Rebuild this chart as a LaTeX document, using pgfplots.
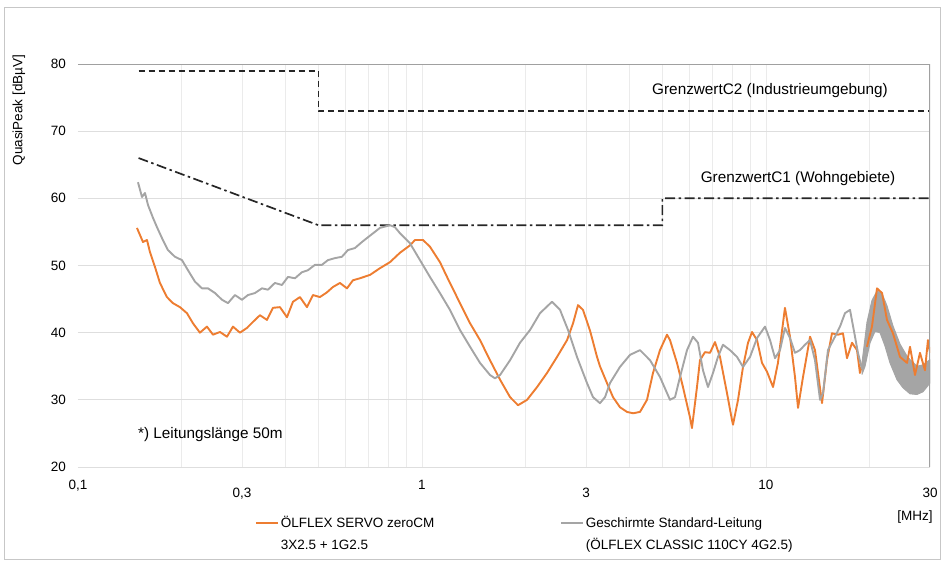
\documentclass[border=0pt]{standalone}
\usepackage{pgfplots}
\pgfplotsset{compat=1.18}
\usepackage{fontspec}
\setmainfont{Liberation Sans}
\definecolor{orng}{HTML}{ED7D31}
\definecolor{gry}{HTML}{A5A5A5}
\definecolor{lim}{HTML}{262626}
\definecolor{hgrid}{HTML}{DEDEDE}
\definecolor{vgrid}{HTML}{EBEBEB}
\definecolor{frm}{HTML}{A0A0A0}
\begin{document}
\begin{tikzpicture}[x=1pt,y=1pt]
\useasboundingbox (0,0) rectangle (941,560);
\draw[color=black!22, line width=0.8pt] (4.5,0.5) rectangle (940.5,553);
\begin{axis}[
  at={(78pt,93pt)}, anchor=south west,
  scale only axis, width=852pt, height=403pt,
  xmode=log, xmin=0.1, xmax=30, ymin=20, ymax=80,
  xtick={0.1,0.3,1,3,10,30},
  xticklabels={{0,1},{\raisebox{-8pt}{0,3}},1,{\raisebox{-8pt}{3}},10,{\raisebox{-8pt}{30}}},
  minor xtick={0.2,0.3,0.4,0.5,0.6,0.7,0.8,0.9,1,2,3,4,5,6,7,8,9,10,20},
  xminorgrids, minor grid style={vgrid, line width=0.7pt},
  ytick={20,30,40,50,60,70,80}, yticklabels={20,30,40,50,60,70,80},
  ymajorgrids, major grid style={hgrid, line width=0.9pt},
  major tick length=0pt, minor tick length=0pt,
  axis line style={draw=none},
  tick label style={font=\fontsize{13.5}{16}\selectfont},
  xticklabel style={anchor=base, yshift=-22.5pt, inner sep=0pt},
  yticklabel style={anchor=east, inner sep=0pt, xshift=-12pt},
  legend columns=2,
  legend style={at={(0.2077,-0.1074)}, anchor=north west, draw=none, fill=none, inner sep=0pt,
    font=\fontsize{13.5}{21.5}\selectfont,
    /tikz/every even column/.append style={column sep=124pt},
    cells={anchor=base west, inner xsep=0pt, inner ysep=1pt}},
  legend image code/.code={\draw[#1, line width=1.6pt] (0pt,4.8pt) -- (22pt,4.8pt);},
]
% limit lines
\addplot[lim, line width=1.7pt, dash pattern=on 6pt off 4pt, forget plot] coordinates {
 (0.15,79) (0.5,79) (0.5,73) (30,73)};
\addplot[lim, line width=1.7pt, dash pattern=on 10pt off 3.5pt on 2.5pt off 3.5pt, forget plot] coordinates {
 (0.15,66) (0.5,56) (5,56) (5,60) (30,60)};

% OELFLEX SERVO zeroCM
\addplot[orng, line width=1.9pt, line join=round] coordinates {
(0.1484,55.6) (0.1545,53.5) (0.1587,53.8) (0.1619,52.0) (0.1674,49.8) (0.1731,47.4)
(0.1814,45.3) (0.1888,44.4) (0.1979,43.8) (0.2074,42.9) (0.2159,41.4) (0.2262,40.0)
(0.2371,40.9) (0.2468,39.7) (0.2587,40.1) (0.2711,39.4) (0.2822,40.9) (0.2957,40.0)
(0.3099,40.7) (0.3226,41.6) (0.3381,42.6) (0.3543,41.9) (0.3688,43.7) (0.3866,43.8)
(0.4051,42.3) (0.4217,44.6) (0.4419,45.3) (0.4631,43.8) (0.4820,45.6) (0.5051,45.3)
(0.5293,46.0) (0.5511,46.8) (0.5776,47.4) (0.6053,46.6) (0.6301,47.8) (0.6604,48.1)
(0.7064,48.6) (0.7551,49.6) (0.8074,50.5) (0.8633,51.9) (0.9232,53.0) (0.9546,53.8)
(1.007,53.8) (1.055,52.8) (1.128,50.5) (1.206,47.4) (1.290,44.4) (1.380,41.4)
(1.475,38.9) (1.577,35.9) (1.687,33.0) (1.804,30.4) (1.903,29.2) (2.021,30.0)
(2.161,31.9) (2.310,34.0) (2.471,36.4) (2.642,38.9) (2.750,41.4) (2.843,44.1)
(2.939,43.4) (3.081,40.3) (3.228,36.4) (3.293,35.0) (3.451,32.5) (3.593,30.4)
(3.765,28.9) (3.947,28.2) (4.109,28.0) (4.305,28.2) (4.511,30.0) (4.696,34.0)
(4.921,37.4) (5.158,39.7) (5.262,38.9) (5.514,35.5) (5.740,31.9) (6.015,27.4)
(6.096,25.8) (6.304,31.9) (6.432,35.9) (6.651,37.1) (6.878,37.0) (7.112,38.6)
(7.354,36.4) (7.708,31.0) (7.970,27.0) (8.024,26.3) (8.297,30.0) (8.579,34.9)
(8.872,38.5) (9.113,40.1) (9.423,38.9) (9.743,35.5) (10.07,34.2) (10.49,31.9)
(10.84,35.5) (11.36,43.7) (11.75,39.4) (12.15,33.4) (12.40,28.8) (12.82,33.4)
(13.44,39.4) (13.89,37.4) (14.56,29.5) (15.05,35.9) (15.56,39.9) (16.20,39.7)
(16.75,39.9) (17.21,36.2) (17.80,38.5) (18.40,37.4) (18.77,34.0) (19.67,37.9)
};
\addlegendentry{\begin{tabular}[t]{@{}l@{}}ÖLFLEX SERVO zeroCM\\3X2.5 + 1G2.5\end{tabular}}

% Geschirmte Standard-Leitung
\addplot[gry, line width=1.9pt, line join=round] coordinates {
(0.1494,62.4) (0.1535,60.2) (0.1566,60.8) (0.1598,59.0) (0.1652,57.1) (0.1697,55.7)
(0.1754,54.1) (0.1826,52.3) (0.1914,51.3) (0.2006,50.8) (0.2088,49.3) (0.2188,47.6)
(0.2293,46.6) (0.2387,46.6) (0.2502,45.9) (0.2622,44.9) (0.2729,44.4) (0.2860,45.6)
(0.2997,44.9) (0.3120,45.6) (0.3270,45.9) (0.3427,46.6) (0.3567,46.4) (0.3737,47.4)
(0.3917,47.1) (0.4078,48.3) (0.4274,48.1) (0.4478,49.0) (0.4662,49.3) (0.4886,50.1)
(0.5120,50.1) (0.5329,50.8) (0.5585,51.1) (0.5853,51.3) (0.6093,52.3) (0.6386,52.6)
(0.6693,53.5) (0.6966,54.2) (0.7551,55.6) (0.8074,56.0) (0.8348,55.7) (0.8633,54.8)
(0.9232,53.3) (0.987,50.8) (1.055,48.3) (1.128,45.9) (1.206,43.4) (1.290,40.4)
(1.380,37.9) (1.475,35.5) (1.577,33.7) (1.631,33.2) (1.687,33.7) (1.804,35.9)
(1.928,38.5) (2.062,40.4) (2.204,42.9) (2.388,44.6) (2.520,43.4) (2.659,40.4)
(2.823,36.4) (3.019,32.5) (3.143,30.4) (3.293,29.5) (3.406,30.4) (3.522,32.5)
(3.765,34.9) (4.027,36.7) (4.305,37.4) (4.604,35.9) (4.921,33.4) (5.262,30.0)
(5.443,30.4) (5.627,33.4) (5.897,37.4) (6.138,39.4) (6.347,38.5) (6.563,34.4)
(6.787,31.9) (7.018,34.0) (7.256,36.4) (7.503,38.2) (7.864,37.4) (8.241,36.4)
(8.579,34.9) (8.993,36.4) (9.423,39.2) (9.94,40.9) (10.28,38.9) (10.63,36.2)
(10.99,37.4) (11.36,40.7) (11.75,39.2) (12.15,37.0) (12.56,37.4) (12.99,38.2)
(13.44,38.9) (13.89,35.9) (14.37,30.0) (14.66,31.0) (15.15,37.4) (15.88,39.4)
(16.42,40.9) (16.98,42.9) (17.56,43.4) (18.16,39.4) (18.52,37.0) (19.03,34.6)
};
\addlegendentry{\begin{tabular}[t]{@{}l@{}}Geschirmte Standard-Leitung\\(ÖLFLEX CLASSIC 110CY 4G2.5)\end{tabular}}

% dense high-frequency band of the shielded cable
\addplot[gry, fill=gry, line width=1pt, line join=round, forget plot] coordinates {
(19.03,35.5) (19.67,41.5) (20.34,44.8) (21.04,46.2) (21.76,45.8) (22.49,44.0)
(23.41,41.0) (24.54,38.3) (25.72,36.5) (26.24,36.0) (27.49,35.0) (28.62,35.2) (30,36.0)
(30,32.5) (28.62,31.2) (27.49,30.8) (26.24,30.9) (25.03,31.8) (24.05,33.0)
(22.95,35.5) (22.20,38.0) (21.47,40.0) (20.76,40.2) (20.08,38.5) (19.42,35.0) (19.03,33.8)
} -- cycle;

% high-frequency part of the zeroCM cable, on top of the band
\addplot[orng, line width=1.9pt, line join=round, forget plot] coordinates {
(19.67,37.9) (20.34,40.9) (21.04,46.6) (21.76,45.9) (22.49,41.9) (23.41,39.9) (24.54,36.4)
(25.72,35.5) (26.24,37.9) (27.13,33.7) (28.05,37.0) (29.00,34.4) (29.59,38.9) (30,37.0)
};

\draw[frm, line width=1.1pt] (rel axis cs:0,1) -- (rel axis cs:1,1) -- (rel axis cs:1,0);

\node[font=\fontsize{15.3}{18}\selectfont] at (axis cs:10.28,76.0) {GrenzwertC2 (Industrieumgebung)};
\node[font=\fontsize{15.3}{18}\selectfont] at (axis cs:12.40,63.0) {GrenzwertC1 (Wohngebiete)};
\node[font=\fontsize{15.3}{18}\selectfont, anchor=west, inner sep=0pt] at (axis cs:0.1494,24.8) {*) Leitungslänge 50m};
\end{axis}
\node[font=\fontsize{13.5}{16}\selectfont] at (915,43) {[MHz]};
\node[font=\fontsize{13.5}{16}\selectfont, rotate=90] at (19,450) {QuasiPeak [dBµV]};
\end{tikzpicture}
\end{document}
